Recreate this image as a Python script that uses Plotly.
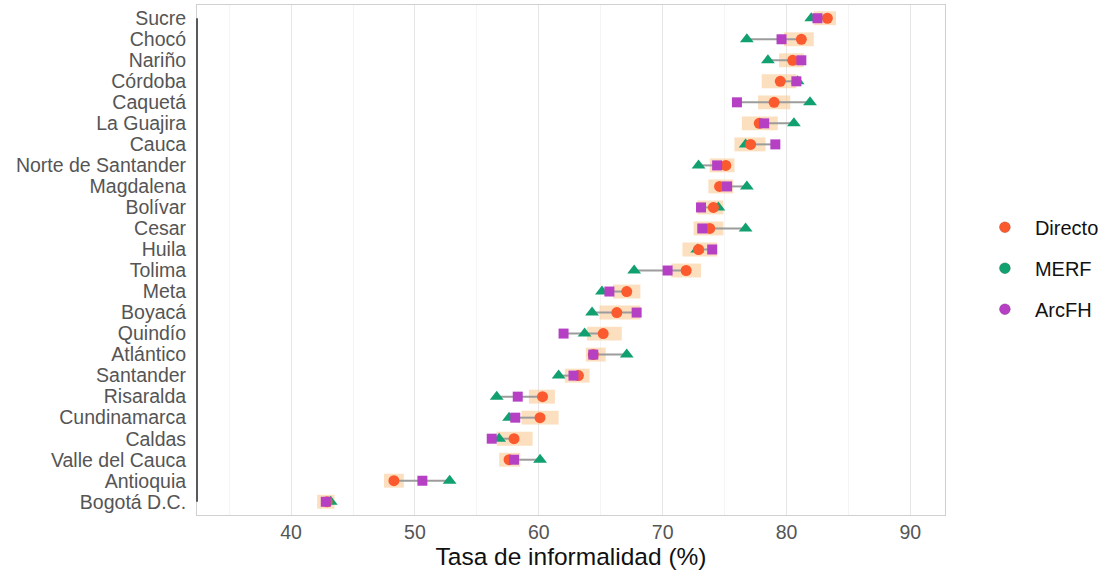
import plotly.graph_objects as go

departamentos = ["Sucre", "Chocó", "Nariño", "Córdoba", "Caquetá", "La Guajira", "Cauca",
                 "Norte de Santander", "Magdalena", "Bolívar", "Cesar", "Huila", "Tolima",
                 "Meta", "Boyacá", "Quindío", "Atlántico", "Santander", "Risaralda",
                 "Cundinamarca", "Caldas", "Valle del Cauca", "Antioquia", "Bogotá D.C."]
directo = [83.3, 81.2, 80.5, 79.5, 79.0, 77.8, 77.1, 75.1, 74.6, 74.1, 73.8, 72.9, 71.9,
           67.1, 66.3, 65.2, 64.4, 63.2, 60.3, 60.1, 58.0, 57.6, 48.3, 42.9]
merf = [82.0, 76.8, 78.5, 80.9, 81.9, 80.6, 76.7, 72.9, 76.8, 74.5, 76.7, 72.8, 67.7,
        65.1, 64.3, 63.7, 67.1, 61.6, 56.6, 57.6, 56.8, 60.1, 52.8, 43.2]
arcfh = [82.5, 79.6, 81.2, 80.8, 76.0, 78.2, 79.1, 74.4, 75.2, 73.1, 73.2, 74.0, 70.4,
         65.7, 67.9, 62.0, 64.4, 62.8, 58.3, 58.1, 56.2, 58.0, 50.6, 42.8]
ic_inf = [82.2, 79.8, 79.4, 78.0, 77.7, 76.4, 75.8, 73.8, 73.7, 72.8, 72.5, 71.6, 70.7,
          66.0, 64.9, 63.9, 63.8, 62.1, 59.2, 58.6, 56.6, 56.8, 47.5, 42.1]
ic_sup = [84.0, 82.2, 81.4, 80.8, 80.3, 79.3, 78.3, 75.8, 75.7, 74.9, 74.9, 74.4, 73.1,
          68.2, 68.2, 66.7, 65.4, 64.1, 61.3, 61.6, 59.5, 58.5, 49.1, 43.5]
x_ticks = [40, 50, 60, 70, 80, 90]

n = len(departamentos)
ypos = [n - i for i in range(n)]  # Sucre on top

C_DIR = "#FA5A2E"
C_MERF = "#11A06F"
C_ARC = "#B540C4"

fig = go.Figure()

# confidence boxes
fig.add_trace(go.Bar(
    y=ypos, x=[h - l for l, h in zip(ic_inf, ic_sup)], base=ic_inf, orientation="h",
    width=0.66, marker=dict(color="rgba(248,192,125,0.5)", line=dict(width=0)),
    showlegend=False, hoverinfo="skip"))

# connecting segments
lx, ly = [], []
for y, d, m, a in zip(ypos, directo, merf, arcfh):
    lx += [min(d, m, a), max(d, m, a), None]
    ly += [y, y, None]
fig.add_trace(go.Scatter(x=lx, y=ly, mode="lines", line=dict(color="#9c9c9c", width=2),
                         showlegend=False, hoverinfo="skip"))

fig.add_trace(go.Scatter(x=merf, y=ypos, mode="markers", showlegend=False,
                         marker=dict(symbol="triangle-up", size=12, color=C_MERF)))
fig.add_trace(go.Scatter(x=directo, y=ypos, mode="markers", showlegend=False,
                         marker=dict(symbol="circle", size=11, color=C_DIR)))
fig.add_trace(go.Scatter(x=arcfh, y=ypos, mode="markers", showlegend=False,
                         marker=dict(symbol="square", size=10, color=C_ARC)))

# legend entries (circles)
for name, col in [("Directo", C_DIR), ("MERF", C_MERF), ("ArcFH", C_ARC)]:
    fig.add_trace(go.Scatter(x=[None], y=[None], mode="markers", name=name, legendgroup=name,
                             marker=dict(symbol="circle", size=11, color=col,
                                         line=dict(color="rgba(0,0,0,0.25)", width=0.5))))

# y axis line limited to category range
fig.add_shape(type="line", xref="paper", yref="y", x0=0, x1=0, y0=1, y1=n,
              line=dict(color="#5a5a5a", width=2))

fig.update_layout(
    width=1109, height=577,
    margin=dict(l=197, r=161, t=5, b=62),
    paper_bgcolor="white", plot_bgcolor="white",
    barmode="overlay",
    font=dict(family="Liberation Sans, Arial, sans-serif"),
    xaxis=dict(range=[32.4, 92.8], tickvals=x_ticks, ticktext=[str(v) for v in x_ticks],
               showgrid=True, gridcolor="#e6e6e6", gridwidth=1.2,
               minor=dict(dtick=5, tick0=35, showgrid=True, gridcolor="#f4f4f4", gridwidth=1),
               zeroline=False, showline=True, linecolor="#d0d0d0", linewidth=1, mirror=True,
               ticks="", tickfont=dict(size=19.5, color="#555555"),
               title=dict(text="Tasa de informalidad (%)", font=dict(size=24.5, color="#111111"),
                          standoff=4)),
    yaxis=dict(range=[0.37, n + 0.63], tickvals=ypos, ticktext=departamentos,
               showgrid=False, zeroline=False, showline=True, linecolor="#d0d0d0",
               linewidth=1, mirror=True, ticks="", ticklabelstandoff=6,
               tickfont=dict(size=19.5, color="#555555")),
    legend=dict(x=1.040, xanchor="left", y=0.484, yanchor="middle",
                font=dict(size=20, color="#111111"), tracegroupgap=12, itemwidth=50,
                bgcolor="rgba(0,0,0,0)"),
)

fig.write_html("out.html")
